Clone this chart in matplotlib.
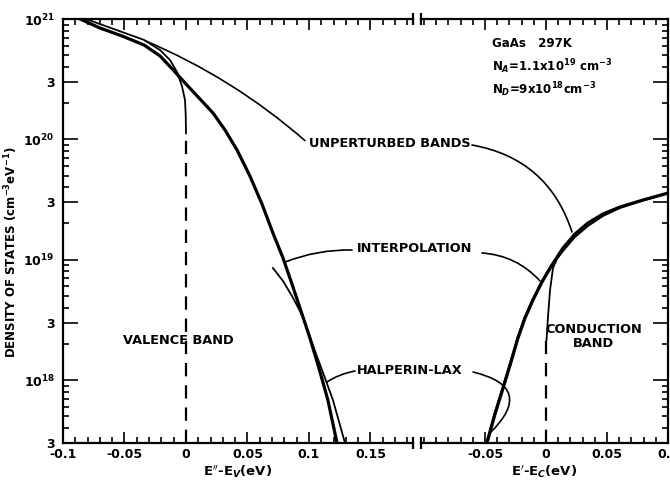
import numpy as np
import matplotlib.pyplot as plt
from matplotlib.ticker import FixedLocator, NullFormatter

plt.rcParams["font.family"] = "DejaVu Sans"
plt.rcParams["font.weight"] = "bold"

# valence band side, E'' - Ev (eV), log10 of density of states
val_unpert_e = [-0.1, -0.0878, -0.0699, -0.052, -0.0341, -0.0211, -0.013, -0.0073,
                -0.0033, -0.0008, -0.0002, 0.0]
val_unpert_log = [21.083, 21.025, 20.958, 20.892, 20.826, 20.742, 20.659, 20.56,
                  20.443, 20.327, 20.202, 20.05]
val_interp_e = [-0.1, -0.0878, -0.0699, -0.052, -0.0341, -0.0211, -0.0089, 0.0, 0.0114,
                0.022, 0.0317, 0.0415, 0.052, 0.0618, 0.0707, 0.0789, 0.0862, 0.0927,
                0.1008, 0.1081, 0.1154, 0.1228]
val_interp_log = [21.066, 21.008, 20.925, 20.859, 20.784, 20.693, 20.56, 20.46, 20.335,
                  20.219, 20.078, 19.912, 19.695, 19.463, 19.222, 19.014, 18.798, 18.599,
                  18.349, 18.1, 17.834, 17.477]
val_hl_e = [0.0707, 0.0789, 0.0862, 0.0927, 0.0976, 0.1016, 0.1106, 0.1195, 0.1293]
val_hl_log = [18.931, 18.823, 18.698, 18.574, 18.457, 18.333, 18.084, 17.834, 17.477]

# conduction band side, E' - Ec (eV)
con_interp_e = [-0.0484, -0.0418, -0.0352, -0.0287, -0.023, -0.0172, -0.0107, -0.0033,
                0.0049, 0.0139, 0.0238, 0.0344, 0.0467, 0.0607, 0.0795, 0.1]
con_interp_log = [17.477, 17.718, 17.934, 18.15, 18.349, 18.516, 18.665, 18.815,
                  18.956, 19.097, 19.214, 19.305, 19.38, 19.438, 19.496, 19.554]
con_hl_e = [-0.049, -0.0424, -0.0358, -0.0293, -0.0236, -0.0178, -0.0113, -0.0039, 0.0043]
con_hl_log = [17.477, 17.718, 17.934, 18.15, 18.349, 18.516, 18.665, 18.815, 18.956]
con_unpert_e = [0.0004, 0.0016, 0.0033, 0.0057, 0.009, 0.0139, 0.0238, 0.0344, 0.0467,
                0.0607, 0.0795, 0.1]
con_unpert_log = [18.333, 18.524, 18.748, 18.931, 19.006, 19.072, 19.189, 19.28, 19.363,
                  19.43, 19.492, 19.55]

band_edge_top_val = 20.05
band_edge_top_con = 18.333

ymin, ymax = 3e17, 1e21
ymajor = [3e17, 1e18, 3e18, 1e19, 3e19, 1e20, 3e20, 1e21]
ymajor_labels = ["3", "$10^{18}$", "3", "$10^{19}$", "3", "$10^{20}$", "3", "$10^{21}$"]
yminor = [m * 10.0 ** d for d in range(17, 21) for m in (2, 4, 5, 6, 7, 8, 9)]
yminor = [v for v in yminor if ymin < v < ymax]

fig = plt.figure(figsize=(6.7, 4.92), dpi=100)
W, H = 670, 492
ax1 = fig.add_axes([63 / W, 1 - 443 / H, 350 / W, 424 / H])
ax2 = fig.add_axes([421 / W, 1 - 443 / H, 247 / W, 424 / H])
ax2.patch.set_visible(False)

thick = dict(color="black", lw=2.3, solid_capstyle="butt")
thin = dict(color="black", lw=1.3)

ax1.plot(val_unpert_e, 10 ** np.array(val_unpert_log), **thin)
ax1.plot([0, 0], [ymin, 10 ** band_edge_top_val], color="black", lw=1.6, ls=(0, (6, 4)))
ax1.plot(val_interp_e, 10 ** np.array(val_interp_log), **thick)
ax1.plot(val_hl_e, 10 ** np.array(val_hl_log), **thin)

ax2.plot(con_unpert_e, 10 ** np.array(con_unpert_log), **thin)
ax2.plot([0, 0], [ymin, 10 ** band_edge_top_con], color="black", lw=1.6, ls=(0, (6, 4)))
ax2.plot(con_hl_e, 10 ** np.array(con_hl_log), **thin)
ax2.plot(con_interp_e, 10 ** np.array(con_interp_log), **thick)

for ax in (ax1, ax2):
    ax.set_yscale("log")
    ax.set_ylim(ymin, ymax)
    ax.yaxis.set_major_locator(FixedLocator(ymajor))
    ax.yaxis.set_minor_locator(FixedLocator(yminor))
    ax.yaxis.set_minor_formatter(NullFormatter())
    ax.tick_params(which="both", direction="in", width=1.2, labelsize=9)
    ax.tick_params(which="major", length=11)
    ax.tick_params(which="minor", length=4)
    ax.tick_params(axis="x", which="major", length=8)
    for s in ax.spines.values():
        s.set_linewidth(1.6)

ax1.set_xlim(-0.1, 0.1846)
ax1.set_xticks([-0.1, -0.05, 0, 0.05, 0.1, 0.15])
ax1.set_xticklabels(["-0.1", "-0.05", "0", "0.05", "0.1", "0.15"])
ax1.set_xticks(np.arange(-0.1, 0.181, 0.01), minor=True)
ax1.set_yticklabels(ymajor_labels)
ax1.spines["right"].set_visible(False)
ax1.tick_params(which="both", top=True, right=False)
ax1.tick_params(axis="y", pad=6)
ax1.set_xlabel("E$''$-E$_V$(eV)", fontsize=9.5, fontweight="bold", labelpad=2)

ax2.set_xlim(-0.1025, 0.1)
ax2.set_xticks([-0.05, 0, 0.05, 0.1])
ax2.set_xticklabels(["-0.05", "0", "0.05", "0.1"])
ax2.set_xticks(np.arange(-0.1, 0.101, 0.01), minor=True)
ax2.spines["left"].set_visible(False)
ax2.tick_params(which="both", top=True, left=False, right=True, labelleft=False)
ax2.set_xlabel("E$'$-E$_C$(eV)", fontsize=9.5, fontweight="bold", labelpad=2)

ax1.set_ylabel("DENSITY OF STATES (cm$^{-3}$eV$^{-1}$)", fontsize=8.5, fontweight="bold")
ax1.yaxis.set_label_coords(-0.123, 0.45)

# axis break marks
ax1.plot([1, 1], [0, 1], transform=ax1.transAxes, ls="none", marker="|", ms=9, mew=1.6,
         color="black", clip_on=False)
ax2.plot([0, 0], [0, 1], transform=ax2.transAxes, ls="none", marker="|", ms=9, mew=1.6,
         color="black", clip_on=False)

txt = dict(fontsize=9.3, fontweight="bold", va="center", clip_on=False, zorder=5)
ax1.text(0.1, 9.3e19, "UNPERTURBED BANDS", ha="left", **txt)
ax1.text(0.139, 1.23e19, "INTERPOLATION", ha="left", **txt)
ax1.text(0.139, 1.21e18, "HALPERIN-LAX", ha="left", **txt)
ax1.text(-0.0512, 2.15e18, "VALENCE BAND", ha="left", **txt)
ax2.text(0.039, 2.3e18, "CONDUCTION\nBAND", ha="center", multialignment="center",
         linespacing=1.1, **txt)
info = dict(fontsize=8.5, fontweight="bold", va="center", ha="left")
ax2.text(-0.0443, 6.3e20, "GaAs   297K", **info)
ax2.text(-0.0443, 4.0e20, "N$_A$=1.1x10$^{19}$ cm$^{-3}$", **info)
ax2.text(-0.0443, 2.6e20, "N$_D$=9x10$^{18}$cm$^{-3}$", **info)

lead = dict(arrowstyle="-", color="black", lw=1.2, shrinkA=0, shrinkB=0)
ax1.annotate("", xy=(-0.0333, 10 ** 20.82), xytext=(0.0967, 10 ** 19.99),
             arrowprops=dict(connectionstyle="arc3,rad=0.08", **lead))
ax2.annotate("", xy=(0.0213, 10 ** 19.23), xytext=(-0.0607, 10 ** 19.953),
             arrowprops=dict(connectionstyle="arc3,rad=-0.3", **lead))
ax1.annotate("", xy=(0.0805, 10 ** 18.98), xytext=(0.135, 10 ** 19.081),
             arrowprops=dict(connectionstyle="arc3,rad=0.1", **lead))
ax2.annotate("", xy=(-0.0049, 10 ** 18.823), xytext=(-0.0525, 10 ** 19.056),
             arrowprops=dict(connectionstyle="arc3,rad=-0.2", **lead))
ax1.annotate("", xy=(0.1146, 10 ** 17.984), xytext=(0.1374, 10 ** 18.075),
             arrowprops=dict(connectionstyle="arc3,rad=0.1", **lead))
ax2.annotate("", xy=(-0.0459, 10 ** 17.56), xytext=(-0.0598, 10 ** 18.067),
             arrowprops=dict(connectionstyle="arc3,rad=-0.9", **lead))

fig.savefig("out.png", dpi=100)
